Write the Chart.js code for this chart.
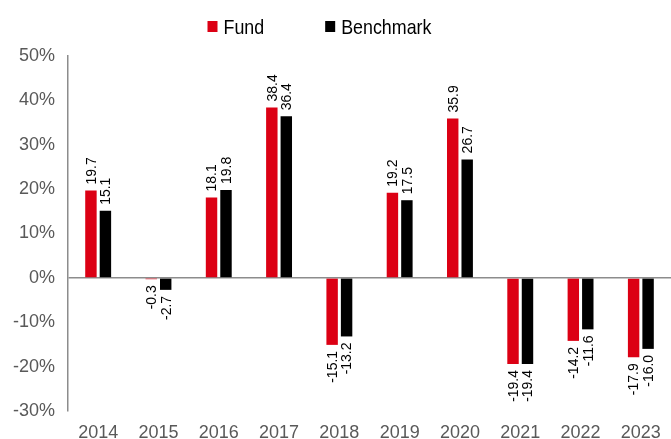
<!DOCTYPE html>
<html>
<head>
<meta charset="utf-8">
<script src="https://cdn.jsdelivr.net/npm/chart.js@4/dist/chart.umd.min.js"></script>
<style>
html,body{margin:0;padding:0;background:#fff;}
#wrap{width:671px;height:439px;position:relative;}
</style>
</head>
<body>
<div id="wrap"><canvas id="c" width="671" height="439"></canvas></div>
<script>
const years = ['2014','2015','2016','2017','2018','2019','2020','2021','2022','2023'];
const fund = [19.7, -0.3, 18.1, 38.4, -15.1, 19.2, 35.9, -19.4, -14.2, -17.9];
const benchmark = [15.1, -2.7, 19.8, 36.4, -13.2, 17.5, 26.7, -19.4, -11.6, -16.0];
const seriesNames = ['Fund', 'Benchmark'];
const seriesColors = ['#dc0014', '#000000'];

const labelPlugin = {
  id: 'barLabels',
  afterDatasetsDraw(chart) {
    const ctx = chart.ctx;
    ctx.save();
    ctx.font = '14px "Liberation Sans", Arial, sans-serif';
    ctx.fillStyle = '#000';
    ctx.textBaseline = 'middle';
    chart.data.datasets.forEach((ds, di) => {
      const meta = chart.getDatasetMeta(di);
      meta.data.forEach((el, i) => {
        const v = ds.data[i];
        const txt = v.toFixed(1);
        ctx.save();
        if (v >= 0) {
          ctx.translate(el.x + 1, el.y - 6);
          ctx.rotate(-Math.PI / 2);
          ctx.textAlign = 'left';
        } else {
          ctx.translate(el.x + 1, el.y + 6);
          ctx.rotate(-Math.PI / 2);
          ctx.textAlign = 'right';
        }
        ctx.fillText(txt, 0, 0);
        ctx.restore();
      });
    });
    ctx.restore();
  }
};

// Legend drawn with a condensed look (Arial Narrow style)
const legendPlugin = {
  id: 'narrowLegend',
  afterDraw(chart) {
    const ctx = chart.ctx;
    const sx = 0.85;
    const fontSize = 21;
    const startX = chart.width / 2 - 128;
    const itemGap = 61;
    const baseY = 34;
    ctx.save();
    ctx.font = fontSize + 'px "Liberation Sans", Arial, sans-serif';
    ctx.textBaseline = 'alphabetic';
    ctx.textAlign = 'left';
    let x = startX;
    chart.data.datasets.forEach((ds, i) => {
      ctx.fillStyle = seriesColors[i];
      ctx.fillRect(x, 21, 10, 11);
      const tx = x + 16;
      ctx.save();
      ctx.translate(tx, baseY);
      ctx.scale(sx, 1);
      ctx.fillStyle = '#000';
      ctx.fillText(ds.label, 0, 0);
      const w = ctx.measureText(ds.label).width * sx;
      ctx.restore();
      x = tx + w + itemGap;
    });
    ctx.restore();
  }
};

new Chart(document.getElementById('c'), {
  type: 'bar',
  data: {
    labels: years,
    datasets: [
      { label: seriesNames[0], data: fund, backgroundColor: seriesColors[0], categoryPercentage: 0.48, barPercentage: 0.79 },
      { label: seriesNames[1], data: benchmark, backgroundColor: seriesColors[1], categoryPercentage: 0.48, barPercentage: 0.79 }
    ]
  },
  options: {
    responsive: false,
    animation: false,
    layout: { padding: { top: 56, right: 0, left: 0, bottom: 0 } },
    plugins: {
      legend: { display: false },
      tooltip: { enabled: false }
    },
    scales: {
      x: {
        grid: { display: false },
        border: { display: false },
        afterFit: s => { s.height = 28; },
        ticks: { color: '#595959', font: { family: '"Liberation Sans", Arial, sans-serif', size: 18 }, padding: 3 }
      },
      y: {
        min: -30, max: 50,
        ticks: {
          stepSize: 10,
          color: '#595959',
          padding: 13,
          font: { family: '"Liberation Sans", Arial, sans-serif', size: 18 },
          callback: v => v + '%'
        },
        grid: {
          drawTicks: false,
          color: c => c.tick && c.tick.value === 0 ? '#8c8c8c' : 'rgba(0,0,0,0)',
          lineWidth: 1.5
        },
        border: { display: true, color: '#8c8c8c', width: 1.5 }
      }
    }
  },
  plugins: [labelPlugin, legendPlugin]
});
</script>
</body>
</html>
